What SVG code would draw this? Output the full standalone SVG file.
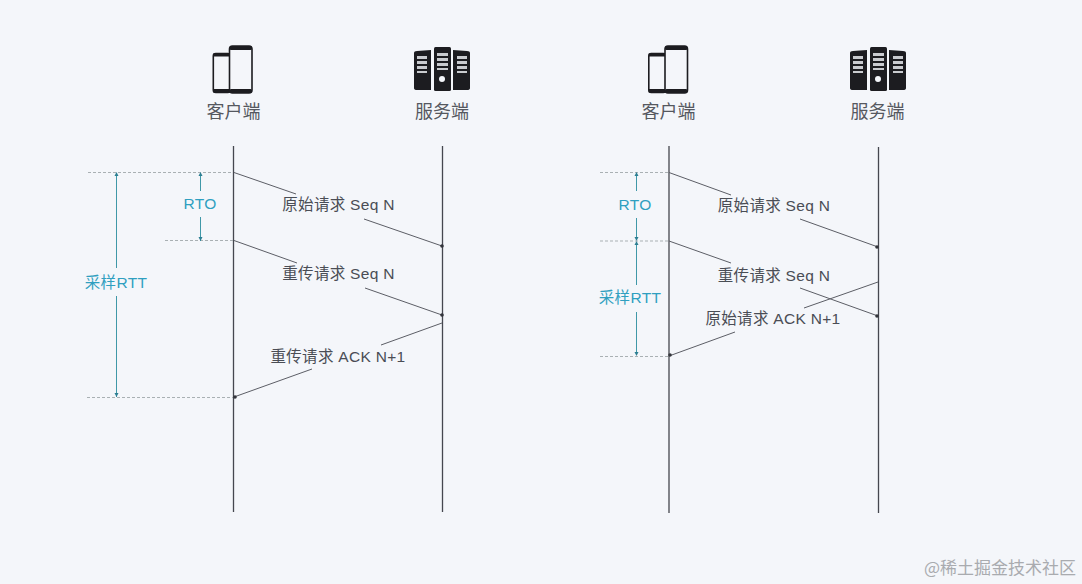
<svg xmlns="http://www.w3.org/2000/svg" width="1082" height="584" viewBox="0 0 1082 584">
<style>
text{font-family:"Liberation Sans","Noto Sans CJK SC",sans-serif}
.t{font-size:15.500px;letter-spacing:.3px;fill:#4a4d55;text-anchor:middle}
.n{font-size:18px;fill:#55585f;text-anchor:middle}
.c{font-size:15.500px;letter-spacing:.3px;fill:#2f9fc0;text-anchor:middle}
.life{stroke:#45474f;stroke-width:1.3;fill:none}
.msg{stroke:#5c5e66;stroke-width:1;fill:none}
.dim{stroke:#3f98a8;stroke-width:1;fill:none}
.dash{stroke:#a9b0b3;stroke-width:1;stroke-dasharray:3 2;fill:none}
.dot{fill:#33353c}
.tick{fill:#2c7f92}
.ph{fill:#f4f6fa;stroke:#1c1c20;stroke-width:1.6}
.bk{fill:#1c1c20}
.sl{fill:#c9cbcf}
</style>
<defs>
<g id="phones">
<rect x="0.8" y="8.5" width="17" height="39" rx="2.5" class="ph"/>
<rect x="0.8" y="8.5" width="17" height="3" class="bk"/>
<rect x="0.8" y="44" width="17" height="3.5" class="bk"/>
<rect x="17" y="1" width="22.5" height="47" rx="3" class="ph"/>
<rect x="17" y="1" width="22.5" height="4" rx="1.5" class="bk"/>
<rect x="17" y="44" width="22.5" height="4" rx="1.5" class="bk"/>
</g>
<g id="servers">
<path class="bk" d="M0 6Q0 4 3 4L17 3V43L3 43Q0 43 0 41Z"/>
<rect x="20" y="0" width="17" height="44" rx="1.5" class="bk"/>
<path class="bk" d="M39 3L53 4Q56 4 56 6V41Q56 43 53 43L39 43Z"/>
<g class="sl">
<rect x="3" y="9" width="10" height="3"/><rect x="3" y="14" width="10" height="3"/><rect x="3" y="19" width="10" height="3"/><rect x="3" y="24" width="10" height="2"/>
<rect x="23" y="6" width="11" height="3"/><rect x="23" y="11" width="11" height="3"/><rect x="23" y="16" width="11" height="3"/><rect x="23" y="21" width="11" height="2"/>
<rect x="43" y="9" width="10" height="3"/><rect x="43" y="14" width="10" height="3"/><rect x="43" y="19" width="10" height="3"/><rect x="43" y="24" width="10" height="2"/>
</g>
<circle cx="28" cy="32" r="3" fill="#f4f6fa"/>
</g>
</defs>
<rect width="1082" height="584" fill="#f4f6fa"/>

<g id="connectors">
<path class="life" d="M233.500 146V512M442.500 146V512M669 146V513M878.500 147V513"/>
<path class="dash" d="M88 172.500H233M165 240.500H233M87 397.500H233"/>
<path class="msg" d="M234 172.500L296 194M364 219L442 246M234 240.500L297 263M365 288L442 315M442 323L381 345M312 369L234 397"/>
<path class="dim" d="M116.500 173V268M116.500 296V397M200.500 173V191M200.500 217V241"/>
<circle class="dot" cx="442" cy="246" r="1.800"/><circle class="dot" cx="442" cy="315" r="1.800"/><circle class="dot" cx="235" cy="397" r="1.800"/>
<path class="tick" d="M116.500 172l-2 4h4zM116.500 397l-2-4h4zM200.500 172l-2 4h4zM200.500 241l-2-4h4z"/>

<path class="dash" d="M600 172.500H669M600 241H669M600 356.500H669"/>
<path class="msg" d="M669 172.500L731 195M800 219L878 247M669 241L731 263M800 288L878 316M878 282L804 308M735 332L669 356"/>
<path class="dim" d="M636.500 173V191M636.500 218V238M636.500 244V285M636.500 312V355"/>
<circle class="dot" cx="877" cy="247" r="1.800"/><circle class="dot" cx="877" cy="316" r="1.800"/><circle class="dot" cx="670" cy="355" r="1.800"/>
<path class="tick" d="M636.500 172l-2 4h4zM636.500 241l-2-4h4zM636.500 241l-2 4h4zM636.500 356l-2-4h4z"/>
</g>

<g id="client-left"><use href="#phones" x="212.500" y="45"/><text class="n" x="233.500" y="118">客户端</text></g>
<g id="server-left"><use href="#servers" x="414" y="47"/><text class="n" x="442" y="118">服务端</text></g>
<g id="client-right"><use href="#phones" x="648" y="45"/><text class="n" x="668.500" y="118">客户端</text></g>
<g id="server-right"><use href="#servers" x="850" y="47"/><text class="n" x="877.500" y="118">服务端</text></g>

<g id="labels-left">
<text class="t" x="338.500" y="210">原始请求 Seq N</text>
<text class="t" x="338.500" y="279">重传请求 Seq N</text>
<text class="t" x="338" y="362">重传请求 ACK N+1</text>
<text class="c" x="200" y="209">RTO</text>
<text class="c" x="116" y="288">采样RTT</text>
</g>
<g id="labels-right">
<text class="t" x="774" y="211">原始请求 Seq N</text>
<text class="t" x="774" y="281">重传请求 Seq N</text>
<text class="t" x="773" y="324">原始请求 ACK N+1</text>
<text class="c" x="635" y="210">RTO</text>
<text class="c" x="630" y="303">采样RTT</text>
</g>
<text x="1000" y="574" font-size="17" fill="#a9abaf" text-anchor="middle" style="font-family:'Noto Sans CJK SC','Liberation Serif',serif">@稀土掘金技术社区</text>
</svg>
